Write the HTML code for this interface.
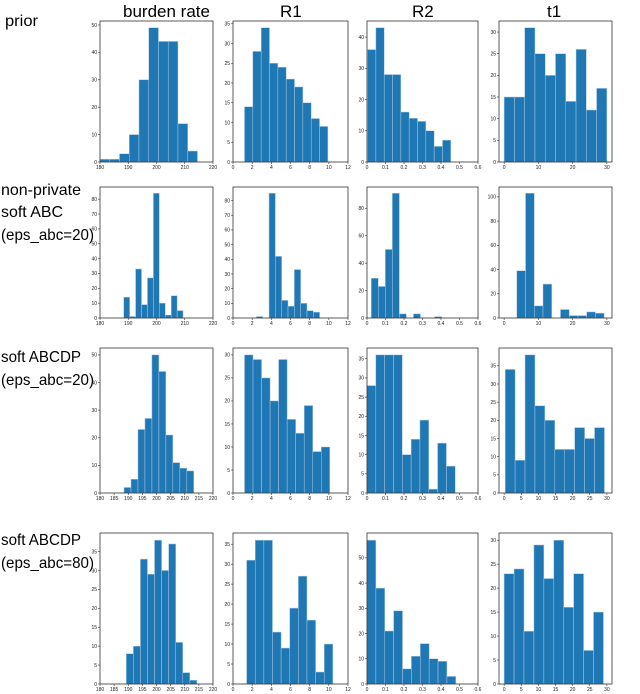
<!DOCTYPE html>
<html><head><meta charset="utf-8">
<style>
body{margin:0;background:#fff;width:640px;height:694px;overflow:hidden;font-family:"Liberation Sans",sans-serif}
svg{position:absolute;left:0;top:0}
</style></head>
<body>
<svg id="fig" width="640" height="694" xmlns="http://www.w3.org/2000/svg">
<text x="123" y="17" font-size="17">burden rate</text>
<text x="280" y="17" font-size="17">R1</text>
<text x="412" y="17" font-size="17">R2</text>
<text x="547" y="17" font-size="17">t1</text>
<text x="5" y="26" font-size="16" textLength="33" lengthAdjust="spacingAndGlyphs">prior</text>
<text x="1" y="195" font-size="16" textLength="80" lengthAdjust="spacingAndGlyphs">non-private</text>
<text x="1" y="217" font-size="16" textLength="62" lengthAdjust="spacingAndGlyphs">soft ABC</text>
<text x="1" y="240" font-size="16" textLength="93" lengthAdjust="spacingAndGlyphs">(eps_abc=20)</text>
<text x="1" y="362" font-size="16" textLength="80" lengthAdjust="spacingAndGlyphs">soft ABCDP</text>
<text x="1" y="385" font-size="16" textLength="93" lengthAdjust="spacingAndGlyphs">(eps_abc=20)</text>
<text x="1" y="545" font-size="16" textLength="80" lengthAdjust="spacingAndGlyphs">soft ABCDP</text>
<text x="1" y="568" font-size="16" textLength="93" lengthAdjust="spacingAndGlyphs">(eps_abc=80)</text>
</svg>
<script>
// ---- data: bin counts per panel ----
const priorBurden=[1,1,3,10,30,49,44,44,14,4];
const priorR1=[14,28,34,25,24,21,19,15,11,9];
const priorR2=[36,43,28,28,16,14,13,10,5,7];
const priorT1=[15,15,31,25,20,25,14,26,12,17];
const abcBurden=[14,1,33,9,27,84,10,2,15,5];
const abcR1=[1,0,85,42,12,8,33,10,5,4];
const abcR2=[29,23,50,91,3,0,3,0,0,1];
const abcT1=[39,103,10,28,0,7,2,2,5,4];
const dp20Burden=[2,5,23,27,50,44,21,11,9,8];
const dp20R1=[30,29,25,20,29,16,13,19,9,10];
const dp20R2=[28,36,36,36,10,14,19,1,13,7];
const dp20T1=[34,9,38,24,20,12,12,18,15,18];
const dp80Burden=[8,10,33,29,38,30,37,11,3,1];
const dp80R1=[31,36,36,13,9,19,27,16,3,10];
const dp80R2=[57,38,21,29,6,11,16,10,9,3];
const dp80T1=[23,24,11,29,22,30,16,23,7,15];
// bin starts / widths (data units)
const binStarts=[[180,1.2,0.003,0],[188.4,2.44,0.023,3.7],[188.5,1.2,0,0.3],[189.3,1.42,0,0]];
const binWidths=[[3.45,0.87,0.045,3],[2.1,0.66,0.038,2.55],[2.47,0.89,0.0477,2.9],[2.5,0.9,0.048,2.9]];
// tick labels
const xTicks=[
 [[180,190,200,210,220],[0,2,4,6,8,10,12],[0,0.1,0.2,0.3,0.4,0.5,0.6],[0,10,20,30]],
 [[180,190,200,210,220],[0,2,4,6,8,10,12],[0,0.1,0.2,0.3,0.4,0.5,0.6],[0,10,20,30]],
 [[180,185,190,195,200,205,210,215,220],[0,2,4,6,8,10,12],[0,0.1,0.2,0.3,0.4,0.5,0.6],[0,5,10,15,20,25,30]],
 [[180,185,190,195,200,205,210,215,220],[0,2,4,6,8,10,12],[0,0.1,0.2,0.3,0.4,0.5,0.6],[0,5,10,15,20,25,30]]];
const yTickSteps=[[10,5,10,5],[10,10,20,20],[10,5,5,5],[5,5,10,5]];
const xRanges=[[180,220],[0,12],[0,0.6],[-1.5,31.5]];
const series=[[priorBurden,priorR1,priorR2,priorT1],[abcBurden,abcR1,abcR2,abcT1],[dp20Burden,dp20R1,dp20R2,dp20T1],[dp80Burden,dp80R1,dp80R2,dp80T1]];
const rowNames=['prior','nonprivate-abc','abcdp-eps20','abcdp-eps80'];
const colNames=['burden-rate','r1','r2','t1'];

const svg=document.getElementById('fig');
const NS='http://www.w3.org/2000/svg';
const colX=[[100,213],[233,348],[367,478],[499,612]];
const rowY=[[21,162],[187,318],[348,493],[533,684]];
function mk(tag,attrs,parent){const e=document.createElementNS(NS,tag);for(const k in attrs)e.setAttribute(k,attrs[k]);parent.appendChild(e);return e;}
function fmt(v){return Math.abs(v%1)>1e-9?v.toFixed(1):String(v);}
for(let r=0;r<4;r++)for(let c=0;c<4;c++){
  const vals=series[r][c];
  const [x0,x1]=colX[c],[y0,y1]=rowY[r];
  const g=mk('g',{},svg);
  
  
  const xr=xRanges[c];
  const xs=v=>x0+(v-xr[0])/(xr[1]-xr[0])*(x1-x0);
  const ymax=Math.max(...vals)*1.05;
  const ys=v=>y1-v/ymax*(y1-y0);
  for(let i=0;i<vals.length;i++){
    if(vals[i]<=0)continue;
    const a=binStarts[r][c]+i*binWidths[r][c],b=a+binWidths[r][c];
    const rc=mk('rect',{x:xs(a),y:ys(vals[i]),width:xs(b)-xs(a),height:y1-ys(vals[i]),fill:'#1f77b4',stroke:'#a9c8e4','stroke-width':0.5},g);
    
    
  }
  const fr=mk('rect',{x:x0,y:y0,width:x1-x0,height:y1-y0,fill:'none',stroke:'#333','stroke-width':0.8},g);
  
  
  xTicks[r][c].forEach(t=>{
    const x=xs(t);
    mk('line',{x1:x,x2:x,y1:y1,y2:y1+2,stroke:'#333','stroke-width':0.6},g);
    const tx=mk('text',{x:x,y:y1+7,'font-size':5,'text-anchor':'middle',fill:'#222'},g);
    tx.textContent=fmt(t);
    
    
  });
  const st=yTickSteps[r][c];
  for(let t=0;t<=ymax;t+=st){
    const y=ys(t);
    mk('line',{x1:x0-2,x2:x0,y1:y,y2:y,stroke:'#333','stroke-width':0.6},g);
    const ty=mk('text',{x:x0-3,y:y+1.8,'font-size':5,'text-anchor':'end',fill:'#222'},g);
    ty.textContent=t;
    
    
  }
}
</script>
</body></html>
